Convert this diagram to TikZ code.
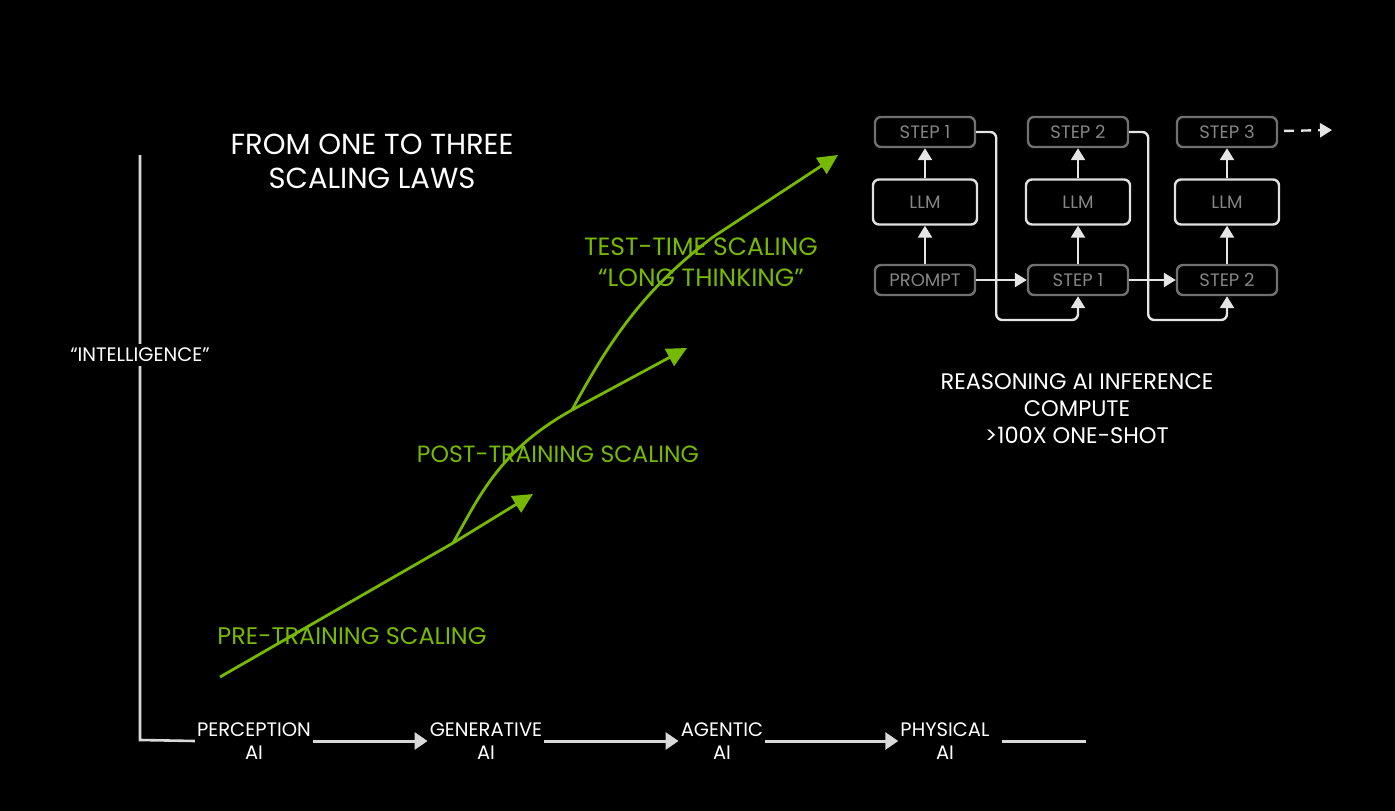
\documentclass[tikz,border=0pt]{standalone}
\usepackage{fontspec}
\setmainfont{Poppins}
\usetikzlibrary{arrows.meta,positioning}
\definecolor{nvgreen}{HTML}{76B900}
\definecolor{boxgray}{HTML}{707070}
\definecolor{txtgray}{HTML}{858585}

\begin{document}
\begin{tikzpicture}[x=1pt, y=-1pt,
		lbl/.style={text=white, font=\fontsize{19.5}{23}\selectfont, align=center, inner sep=2pt},
		glbl/.style={text=nvgreen, font=\fontsize{24}{31}\selectfont, align=center},
		box/.style={rounded corners=6pt, draw=boxgray, line width=2.4pt, minimum width=100pt, minimum height=30pt, text=txtgray, font=\fontsize{18}{20}\selectfont},
		llm/.style={box, draw=white!88!black, minimum width=104pt, minimum height=45pt},
		warr/.style={-{Triangle[length=12pt, width=14pt]}, draw=white!90!black, line width=2.4pt},
		barr/.style={-{Triangle[length=13pt, width=17pt]}, draw=white!85!black, line width=3pt},
		garr/.style={-{Triangle[length=20pt, width=19pt]}, draw=nvgreen, line width=2.8pt},
		axis/.style={draw=white!85!black, line width=2.6pt}
		]
		\fill[black] (0,0) rectangle (1395,811);
		\useasboundingbox (0,0) rectangle (1395,811);

		\node[lbl, font=\fontsize{29}{34}\selectfont] (title) at (372,161) {FROM ONE TO THREE\\SCALING LAWS};

		\coordinate (ytop) at (140,155);
		\coordinate (orig) at (140,740);
		\node[lbl] (perc) at (254,741) {PERCEPTION\\AI};
		\node[lbl] (gen) at (486,741) {GENERATIVE\\AI};
		\node[lbl] (agen) at (722,741) {AGENTIC\\AI};
		\node[lbl] (phys) at (945,741) {PHYSICAL\\AI};
		\coordinate (more) at (1086,741);
		\draw[axis] (ytop) -- (orig) -- (perc.west);
		\node[lbl, fill=black, inner sep=4pt] (intel) at (140,355) {“INTELLIGENCE”};
		\draw[barr] (perc) -- (gen);
		\draw[barr] (gen) -- (agen);
		\draw[barr] (agen) -- (phys);
		\draw[barr, -, shorten <=10pt] (phys) -- (more);

		\coordinate (g0) at (220,677);
		\coordinate (b1) at (453,543);
		\coordinate (b2) at (572,410);
		\coordinate (t1) at (533,494);
		\coordinate (t2) at (687,348);
		\coordinate (t3) at (838,155);
		\draw[garr, -] (g0) -- (b1);
		\draw[garr] (b1) -- (t1);
		\draw[garr, -] (b1) .. controls (480,495) and (500,450) .. (b2);
		\draw[garr] (b2) -- (t2);
		\draw[garr] (b2) .. controls (615,330) and (650,285) .. (713,237) -- (t3);
		\node[glbl] (pre) at (352,636) {PRE-TRAINING SCALING};
		\node[glbl, font=\fontsize{23.5}{31}\selectfont] (post) at (558,454) {POST-TRAINING SCALING};
		\node[glbl, font=\fontsize{25}{31}\selectfont] (test) at (701,262) {TEST-TIME SCALING\\“LONG THINKING”};

		\node[box] (s1a) at (925,132) {STEP 1};
		\node[box] (s2a) at (1078,132) {STEP 2};
		\node[box] (s3a) at (1227,132) {STEP 3};
		\node[llm] (l1) at (925,202) {LLM};
		\node[llm] (l2) at (1078,202) {LLM};
		\node[llm] (l3) at (1227,202) {LLM};
		\node[box] (prompt) at (925,280) {PROMPT};
		\node[box] (s1b) at (1078,280) {STEP 1};
		\node[box] (s2b) at (1227,280) {STEP 2};
		\coordinate (next) at (1332,130);
		\draw[warr] (prompt) -- (l1);
		\draw[warr] (l1) -- (s1a);
		\draw[warr] (s1b) -- (l2);
		\draw[warr] (l2) -- (s2a);
		\draw[warr] (s2b) -- (l3);
		\draw[warr] (l3) -- (s3a);
		\draw[warr] (prompt) -- (s1b);
		\draw[warr] (s1b) -- (s2b);
		\draw[warr, rounded corners=6pt] (s1a.east) -- ++(20,0) -- ++(0,188) -| (s1b.south);
		\draw[warr, rounded corners=6pt] (s2a.east) -- ++(19,0) -- ++(0,188) -| (s2b.south);
		\draw[warr, dashed, dash pattern=on 10pt off 7pt, shorten <=6pt] (s3a) -- (next);

		\node[lbl, font=\fontsize{22.5}{27}\selectfont] (note) at (1077,409) {REASONING AI INFERENCE\\COMPUTE\\>100X ONE-SHOT};
\end{tikzpicture}
\end{document}
